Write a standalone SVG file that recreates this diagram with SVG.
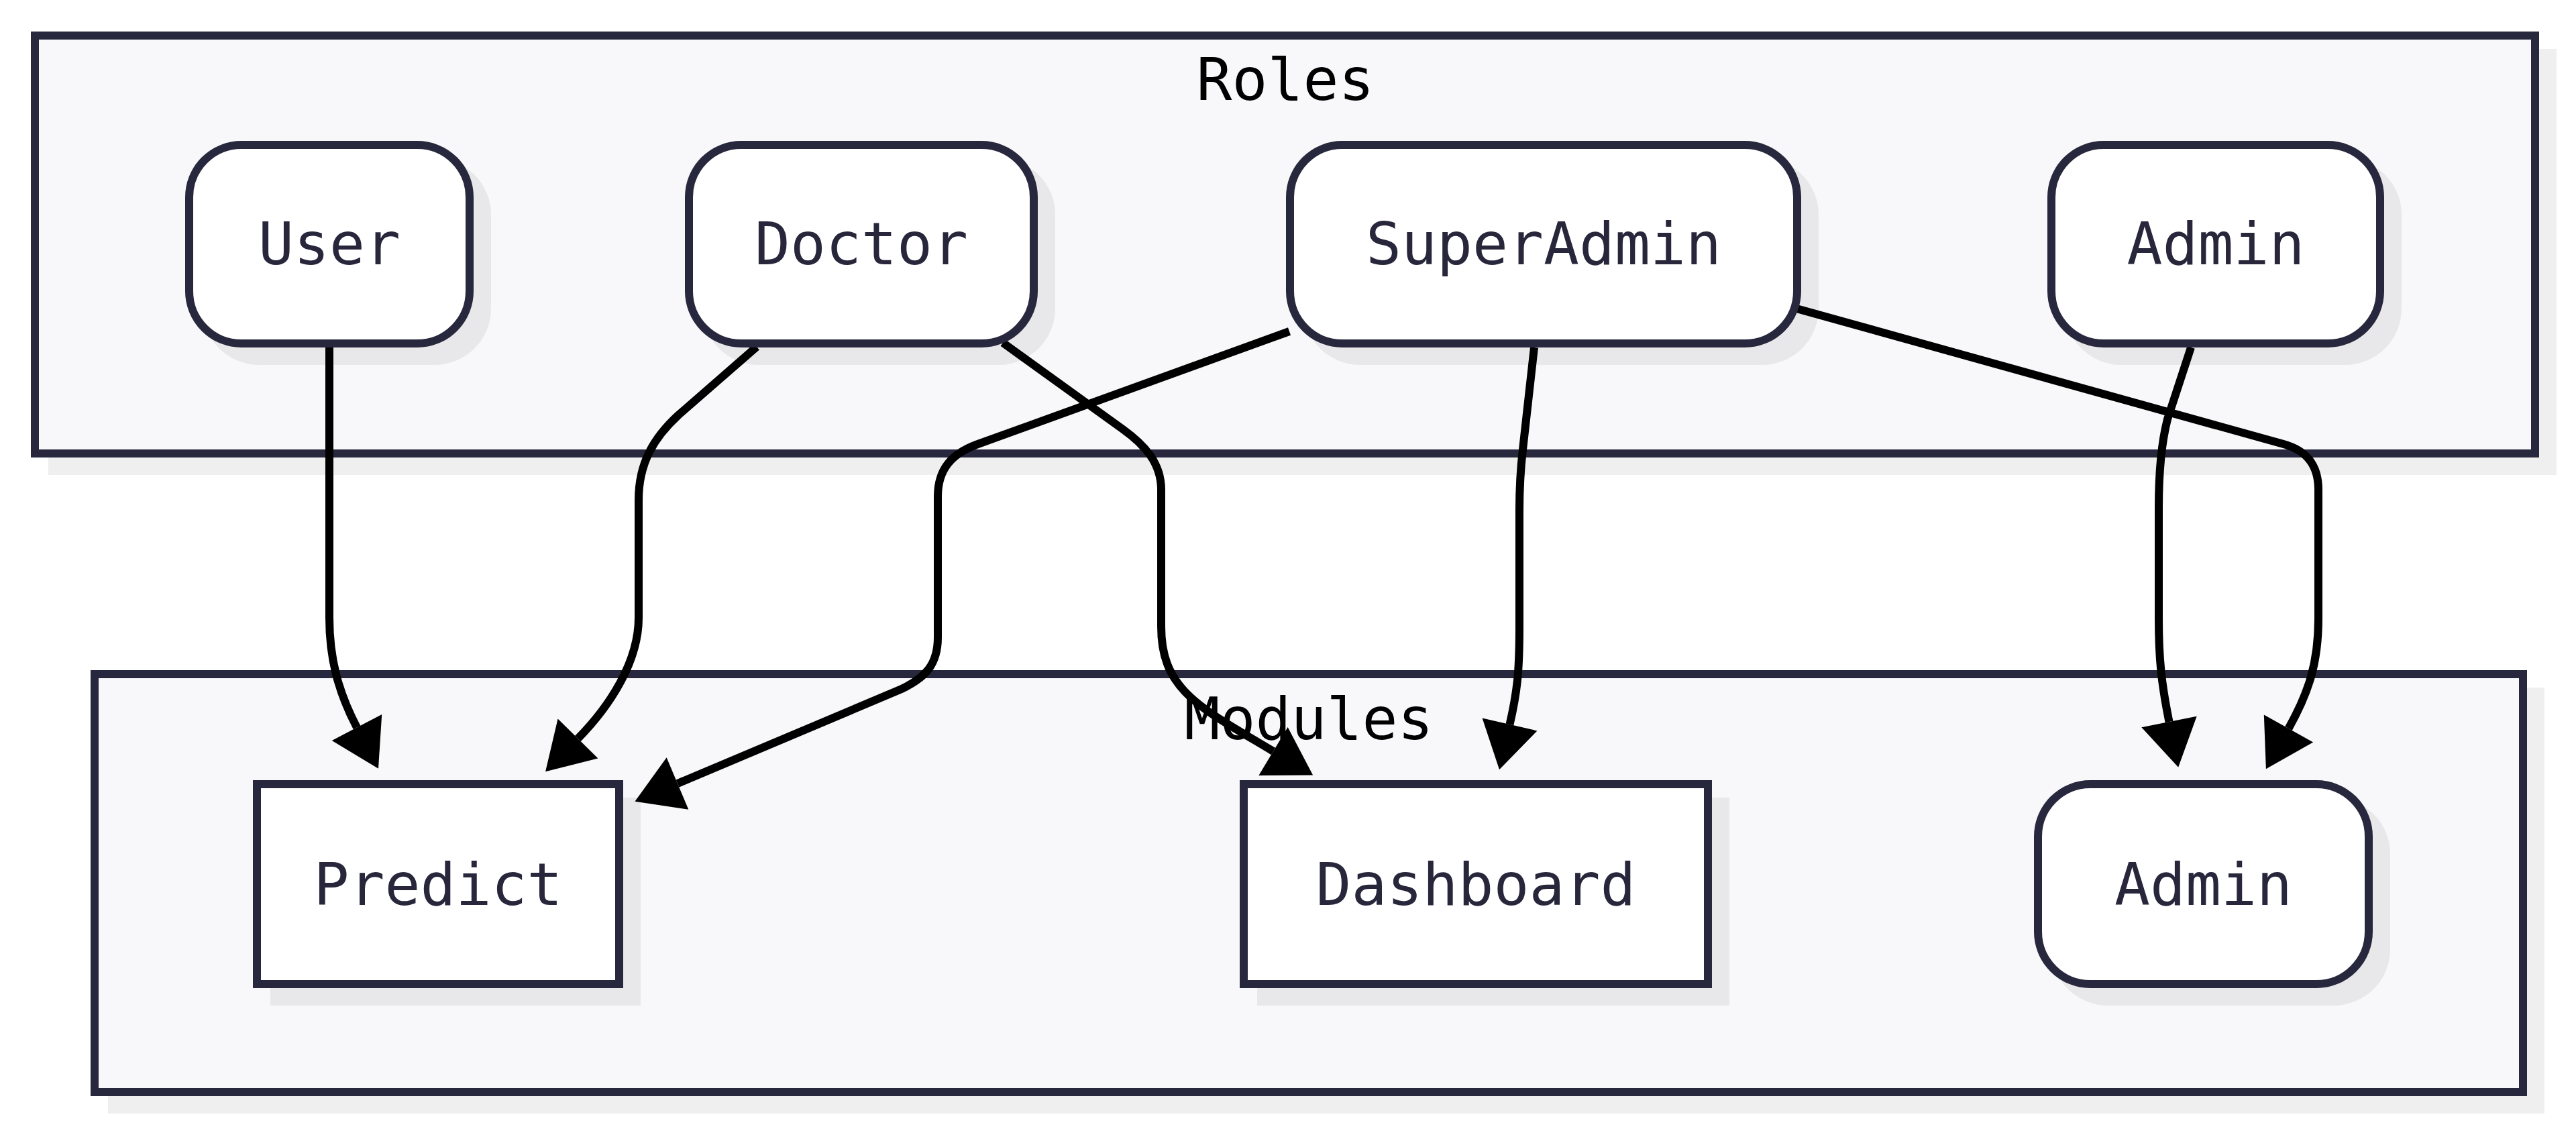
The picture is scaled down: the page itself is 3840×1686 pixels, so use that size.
<svg xmlns="http://www.w3.org/2000/svg" width="3840" height="1686" viewBox="0 0 3840 1686">
<style>
.bg{fill:#ffffff}
.cluster{fill:#f8f8fa;stroke:#27273d;stroke-width:12}
.shadow{fill:#000000;fill-opacity:0.063}
.node{fill:#ffffff;stroke:#27273d;stroke-width:12}
.clabel{font-family:"DejaVu Sans Mono","Liberation Mono",monospace;font-size:88px;fill:#000000;text-anchor:middle}
.nlabel{font-family:"DejaVu Sans Mono","Liberation Mono",monospace;font-size:88px;fill:#27263b;text-anchor:middle}
.edge{fill:none;stroke:#000000;stroke-width:12;marker-end:url(#arrow)}
</style>
<defs>
<marker id="arrow" markerUnits="userSpaceOnUse" viewBox="0 0 69 84" markerWidth="69" markerHeight="84" refX="0" refY="42" orient="auto" overflow="visible">
<path d="M0,0 L69,42 L0,84 Z" fill="#000000"/>
</marker>
</defs>
<rect class="bg" x="0" y="0" width="3840" height="1686"/>

<g id="cluster-Roles">
<rect class="shadow" x="72" y="73" width="3739" height="635"/>
<rect class="cluster" x="52" y="53" width="3727" height="623"/>
<text class="clabel" x="1916" y="149">Roles</text>
</g>
<g id="cluster-Modules">
<rect class="shadow" x="161" y="1025" width="3632" height="635"/>
<rect class="cluster" x="141" y="1005" width="3620" height="623"/>
<text class="clabel" x="1951" y="1102">Modules</text>
</g>

<g id="connectors">
<path id="e-User-Predict" class="edge" d="M491,518 L491,921 C491,981 504,1031 532,1084.5"/>
<path id="e-Doctor-Predict" class="edge" d="M1128,517 L1011,619 C975,652 952,690 952,745 L952,921 C952,985 910.7,1051 861.5,1101"/>
<path id="e-Doctor-Dashboard" class="edge" d="M1495,511 L1674,640 C1706,663 1731,690 1731,730 L1731,934 C1731,1030 1790,1055 1898,1120"/>
<path id="e-SuperAdmin-Predict" class="edge" d="M1922,494 L1455,663 C1418,677 1398,700 1398,740 L1398,950 C1398,990 1380,1010 1344,1027 L1010,1168"/>
<path id="e-SuperAdmin-Dashboard" class="edge" d="M2287,518 L2270,670 C2266,705 2265,730 2265,760 L2265,934 C2265,1000 2262,1030 2250.5,1080"/>
<path id="e-SuperAdmin-Admin" class="edge" d="M2678,460 L3404,662 C3440,672 3456,695 3456,730 L3456,922 C3456,990 3440.7,1033.6 3411.5,1086"/>
<path id="e-Admin-AdminModule" class="edge" d="M3266,518 L3231,625 C3222,660 3218,700 3218,757 L3218,922 C3218,980 3221.6,1017 3233.5,1076"/>
</g>

<g id="node-User">
<rect class="shadow" x="302" y="236" width="430" height="308" rx="84" ry="84"/>
<rect class="node" x="282" y="216" width="418" height="296" rx="78" ry="78"/>
<text class="nlabel" x="491" y="394">User</text>
</g>
<g id="node-Doctor">
<rect class="shadow" x="1047" y="236" width="526" height="308" rx="84" ry="84"/>
<rect class="node" x="1027" y="216" width="514" height="296" rx="78" ry="78"/>
<text class="nlabel" x="1284" y="394">Doctor</text>
</g>
<g id="node-SuperAdmin">
<rect class="shadow" x="1943" y="236" width="768" height="308" rx="84" ry="84"/>
<rect class="node" x="1923" y="216" width="756" height="296" rx="78" ry="78"/>
<text class="nlabel" x="2301" y="394">SuperAdmin</text>
</g>
<g id="node-Admin">
<rect class="shadow" x="3078" y="236" width="502" height="308" rx="84" ry="84"/>
<rect class="node" x="3058" y="216" width="490" height="296" rx="78" ry="78"/>
<text class="nlabel" x="3303" y="394">Admin</text>
</g>
<g id="node-Predict">
<rect class="shadow" x="403" y="1189" width="552" height="310"/>
<rect class="node" x="383" y="1169" width="540" height="298"/>
<text class="nlabel" x="653" y="1349">Predict</text>
</g>
<g id="node-Dashboard">
<rect class="shadow" x="1874" y="1189" width="704" height="310"/>
<rect class="node" x="1854" y="1169" width="692" height="298"/>
<text class="nlabel" x="2200" y="1349">Dashboard</text>
</g>
<g id="node-AdminModule">
<rect class="shadow" x="3058" y="1189" width="505" height="310" rx="84" ry="84"/>
<rect class="node" x="3038" y="1169" width="493" height="298" rx="78" ry="78"/>
<text class="nlabel" x="3284.5" y="1349">Admin</text>
</g>
</svg>
